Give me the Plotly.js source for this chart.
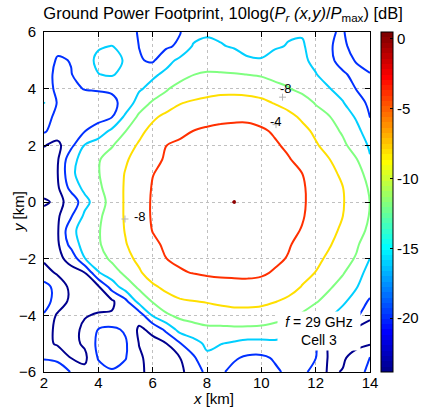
<!DOCTYPE html>
<html>
<head>
<meta charset="utf-8">
<script src="https://cdn.plot.ly/plotly-3.0.1.min.js"></script>
<style>
  html, body { margin: 0; padding: 0; background: #fff; }
  #chart { width: 434px; height: 408px; }
</style>
</head>
<body>
<div id="chart"></div>
<script>
// Ground grid (km)
const xKm = [2, 2.5, 3, 3.5, 4, 4.5, 5, 5.5, 6, 6.5, 7, 7.5, 8, 8.5, 9, 9.5, 10, 10.5, 11, 11.5, 12, 12.5, 13, 13.5, 14];
const yKm = [-6, -5.5, -5, -4.5, -4, -3.5, -3, -2.5, -2, -1.5, -1, -0.5, 0, 0.5, 1, 1.5, 2, 2.5, 3, 3.5, 4, 4.5, 5, 5.5, 6];

// Received power relative to the maximum, 10log(Pr/Pmax) in dB, one row per y
const powerDb = [
  [-18.5, -18.8, -20.1, -23, -21.5, -20.3, -21.3, -23.2, -25.3, -25.3, -24.8, -22.3, -19, -19.5, -21, -21.5, -21.5, -20.6, -19.3, -19.0, -21.5, -24.6, -23.8, -21.5, -19],
  [-20.2, -20.5, -24.1, -24.8, -19.7, -18.9, -19.8, -23.5, -25.2, -25.2, -24.1, -20.6, -16.8, -17.6, -19.6, -20.6, -20.7, -19.6, -18.6, -19.3, -19.9, -24.6, -24.5, -22.5, -19.8],
  [-22.5, -24.6, -25, -23.5, -19.0, -18.6, -19.5, -24.1, -25, -24.1, -20.3, -17.6, -15.2, -15.9, -16.6, -17.3, -17.3, -16.9, -17.5, -18.5, -19.2, -24.2, -25, -25, -24.3],
  [-22.5, -24.8, -25, -23.4, -19.9, -19.2, -20.5, -24.6, -23.2, -19.0, -14.6, -13.5, -12.7, -12.8, -12.7, -12.75, -12.9, -13.45, -14.3, -16.1, -17.5, -18.8, -20.8, -24.8, -25],
  [-20.3, -24.6, -25, -24.2, -23.7, -23.7, -23.2, -22.3, -15.6, -12.6, -11.1, -10.5, -10.2, -9.8, -9.4, -9.4, -9.65, -10.4, -11.2, -12.5, -14.3, -15.6, -17.5, -19.2, -23.5],
  [-18.5, -21.5, -25, -25.3, -25.2, -24.6, -21, -14.4, -11.7, -9.4, -8.5, -8.05, -7.7, -7.2, -6.9, -6.9, -7.1, -7.8, -8.8, -10, -11.6, -13.5, -15.3, -17.7, -20.5],
  [-18.5, -21.5, -25, -25.2, -24.6, -18.3, -14.1, -11.4, -8.6, -7.2, -5.7, -5.85, -5.4, -5.1, -4.9, -4.8, -5.1, -5.9, -6.5, -8.2, -9.8, -11.5, -13.6, -15.8, -18.3],
  [-22.5, -24.5, -25, -24.1, -16.3, -13.7, -11.2, -8.5, -6.3, -5.4, -4.3, -3.9, -3.6, -3.45, -3.45, -3.45, -3.6, -4.3, -5.5, -6.8, -8.1, -9.9, -11.7, -14.4, -17.5],
  [-24.6, -24.8, -23, -16.1, -13.6, -11.3, -9.1, -7.2, -5.6, -4.02, -3.5, -3.27, -3.08, -2.95, -2.89, -2.88, -3.03, -3.41, -4.2, -5.67, -7.1, -8.7, -10.4, -12.4, -16.05],
  [-25.3, -24.6, -18.6, -14.2, -12.4, -10.3, -8.2, -6.4, -4.55, -3.57, -2.99, -2.67, -2.42, -2.25, -2.17, -2.2, -2.42, -3.04, -3.75, -4.9, -6.3, -7.7, -9.5, -11.4, -14.6],
  [-25.5, -24.4, -17.0, -14.35, -12.3, -10.05, -7.8, -5.7, -3.9, -3.29, -2.7, -2.14, -1.83, -1.57, -1.44, -1.53, -1.97, -2.62, -3.33, -4.14, -5.57, -7.0, -8.6, -10.7, -12.7],
  [-25.5, -24.6, -20.3, -15.2, -12.7, -10.2, -7.6, -5.3, -3.72, -3.11, -2.5, -1.91, -1.35, -0.97, -0.72, -0.99, -1.62, -2.32, -3.04, -3.78, -5.04, -6.5, -8.0, -10.1, -12.2],
  [-23.4, -24.8, -23.0, -17.3, -13.8, -10.5, -7.54, -5.24, -3.72, -3.1, -2.48, -1.86, -1.24, -0.62, 0.05, -0.73, -1.47, -2.2, -2.94, -3.68, -4.83, -6.31, -7.79, -9.89, -12.05],
  [-25.8, -24.6, -18.6, -14.95, -12.7, -10.2, -7.6, -5.5, -3.81, -3.19, -2.57, -1.96, -1.37, -0.94, -0.69, -0.98, -1.59, -2.27, -2.99, -3.71, -4.9, -6.4, -7.94, -10.2, -12.4],
  [-25.8, -24.1, -16.7, -14.3, -12.2, -10.0, -7.8, -5.95, -4.07, -3.4, -2.78, -2.2, -1.84, -1.53, -1.4, -1.5, -1.93, -2.55, -3.25, -3.97, -5.44, -6.95, -8.7, -11.0, -13.0],
  [-25.5, -24.4, -17.2, -14.5, -12.3, -10.35, -8.4, -6.6, -4.8, -3.67, -3.12, -2.72, -2.43, -2.2, -2.1, -2.15, -2.44, -3.06, -3.77, -5.0, -6.4, -7.9, -9.8, -11.8, -15.7],
  [-23.8, -25, -21, -15.8, -14.0, -12.3, -9.8, -7.5, -5.8, -4.02, -3.53, -3.33, -3.1, -2.9, -2.8, -2.82, -3.05, -3.6, -4.6, -6.1, -7.6, -9.4, -11.2, -13.8, -16.5],
  [-19.5, -22.0, -22.0, -20.1, -18.2, -15.1, -12.05, -9.1, -6.7, -5.4, -4.6, -3.95, -3.4, -3.2, -3.1, -3.1, -3.5, -4.4, -5.3, -6.9, -8.7, -10.5, -12.5, -15.0, -17.9],
  [-17.8, -21.5, -22.0, -22.0, -21.3, -20.1, -15.1, -11.25, -8.75, -6.9, -6.7, -5.8, -5.3, -4.8, -4.6, -4.6, -5.2, -6.0, -6.9, -8.6, -10.2, -11.8, -14.0, -16.4, -20.1],
  [-15.9, -20.3, -21.0, -21.3, -21.3, -20.8, -18.9, -14.0, -11.5, -10.2, -8.15, -7.6, -7.2, -6.9, -6.7, -6.8, -7.2, -8.2, -9.4, -10.1, -12.3, -14.0, -15.7, -19.2, -20.4],
  [-18.5, -20.7, -20.5, -19.9, -19.7, -19.5, -19.2, -16.6, -14.5, -12.4, -10.6, -9.7, -9.2, -8.9, -9.0, -9.2, -9.7, -10.9, -11.8, -13.1, -14.5, -15.8, -17.9, -20.1, -20.4],
  [-19.0, -20.6, -20.1, -18.7, -16.1, -15.6, -17.4, -19.0, -16.8, -15.0, -13.5, -12.05, -11.7, -11.7, -11.8, -12.05, -12.4, -13.1, -13.3, -14.6, -15.8, -17.8, -19.8, -20.4, -20.1],
  [-18.5, -20.3, -19.9, -17.7, -15.1, -14.6, -16.4, -19.7, -20.5, -17.5, -15.1, -14.2, -13.3, -13.6, -14.2, -15.8, -15.85, -15.0, -14.3, -15.2, -17.0, -19.7, -20.5, -19.9, -19.2],
  [-18.3, -19.3, -19.2, -18.5, -16.4, -15.9, -17.8, -20.05, -20.9, -20.6, -19.3, -15.6, -15.3, -15.75, -16.35, -16.5, -16.75, -16.3, -15.85, -15.6, -17.5, -19.9, -20.3, -19.4, -18.7],
  [-18, -18.4, -18.8, -18.4, -18, -18.5, -19, -20.2, -21.1, -21.1, -20.2, -17.6, -16.4, -16.7, -17, -17.3, -17.6, -17.0, -16.3, -16.3, -17.7, -19.9, -20.1, -19.3, -18.5]
];

// Contour levels and colour range (dB)
const levels = [-24, -20, -16, -12, -8, -4, 0];
const colorMin = -23.85, colorMax = 0.48;
const colorTicks = [0, -5, -10, -15, -20];

// Contour labels: level text, text position and anchor mark (km)
const labelText = ['-8', '-4', '-8'];
const labelX = [10.9, 10.55, 5.55];
const labelY = [4.0, 2.85, -0.5];
const markX = [10.78, 10.54, 4.98];
const markY = [3.70, 2.73, -0.6];

// 64-row jet colormap
function jetRows() {
  const rows = [];
  for (let i = 1; i <= 64; i++) {
    const r = i <= 24 ? 0 : i <= 40 ? (i - 24) / 16 : i <= 56 ? 1 : (72 - i) / 16;
    const g = i <= 8 ? 0 : i <= 24 ? (i - 8) / 16 : i <= 40 ? 1 : i <= 56 ? (56 - i) / 16 : 0;
    const b = i <= 8 ? (i + 8) / 16 : i <= 24 ? 1 : i <= 40 ? (40 - i) / 16 : 0;
    rows.push(`rgb(${Math.round(r * 255)},${Math.round(g * 255)},${Math.round(b * 255)})`);
  }
  return rows;
}
const jet = jetRows();
const jetScale = [];
jet.forEach((c, k) => { jetScale.push([k / 64, c]); jetScale.push([(k + 1) / 64, c]); });
function jetAt(v) {
  const t = (v - colorMin) / (colorMax - colorMin);
  return jet[Math.min(63, Math.max(0, Math.floor(t * 64)))];
}

const font = 'Liberation Sans, Arial, Helvetica, sans-serif';

// One contour trace per level so each line takes its own colormap colour
const contourTraces = levels.map(L => ({
  type: 'contour',
  x: xKm, y: yKm, z: powerDb,
  autocontour: false,
  contours: { start: L, end: L, size: 4, coloring: 'none' },
  line: { width: 2, color: jetAt(L), smoothing: 1 },
  showscale: false, hoverinfo: 'skip'
}));

// Small anchor crosses of the contour labels
const markTrace = {
  type: 'scatter', mode: 'markers', x: markX, y: markY,
  hoverinfo: 'skip', showlegend: false,
  marker: { symbol: 'cross-thin', size: 5, line: { width: 1, color: '#b4b4b4' }, color: '#b4b4b4' }
};

// Colour bar as a stepped gradient
const scaleTrace = {
  type: 'scatter', mode: 'markers', x: [null], y: [null],
  hoverinfo: 'skip', showlegend: false,
  marker: {
    color: [colorMin], cmin: colorMin, cmax: colorMax, colorscale: jetScale,
    showscale: true,
    colorbar: {
      x: 1.033, xanchor: 'left', xref: 'paper',
      y: 0.5, yanchor: 'middle', len: 1, lenmode: 'fraction',
      thickness: 12, thicknessmode: 'pixels',
      xpad: 0, ypad: 0,
      outlinecolor: '#000', outlinewidth: 1,
      tickvals: colorTicks, ticktext: colorTicks.map(String),
      ticks: 'inside', ticklen: 3, tickcolor: '#000',
      tickfont: { family: font, size: 15, color: '#000' }
    }
  }
};

const annotations = labelText.map((t, i) => ({
  x: labelX[i], y: labelY[i], xref: 'x', yref: 'y', text: t, showarrow: false,
  font: { family: font, size: 13, color: '#000' }
}));
annotations.push({
  x: 12.14, y: -4.54, xref: 'x', yref: 'y',
  text: '<i>f</i> = 29 GHz<br>Cell 3', showarrow: false,
  bgcolor: '#fff', width: 80, height: 36, align: 'center',
  font: { family: font, size: 14, color: '#000' }
});
// Axis titles
annotations.push({
  x: 0.521, y: -0.078, xref: 'paper', yref: 'paper', xanchor: 'center', yanchor: 'middle',
  text: '<i>x</i> [km]', showarrow: false, font: { family: font, size: 15, color: '#000' }
});
annotations.push({
  x: -0.08, y: 0.473, xref: 'paper', yref: 'paper', xanchor: 'center', yanchor: 'middle',
  text: '<i>y</i> [km]', textangle: -90, showarrow: false, font: { family: font, size: 15, color: '#000' }
});

const axisCommon = {
  showline: true, linecolor: '#000', linewidth: 1, mirror: 'ticks',
  ticks: 'inside', ticklen: 5, tickcolor: '#000',
  showgrid: true, gridcolor: '#c0c0c0', griddash: 'dot', gridwidth: 1,
  zeroline: false, tickfont: { family: font, size: 15, color: '#000' }
};

const layout = {
  width: 434, height: 408,
  margin: { l: 44, r: 52, t: 32, b: 36 },
  paper_bgcolor: '#fff', plot_bgcolor: '#fff',
  showlegend: false,
  title: {
    text: 'Ground Power Footprint, 10log(<i>P<sub>r</sub></i> <i>(x,y)</i>/<i>P</i><sub>max</sub>) [dB]',
    x: 0.514, xref: 'container', xanchor: 'center',
    y: 0.968, yref: 'container', yanchor: 'middle',
    font: { family: font, size: 16.5, color: '#000' }
  },
  xaxis: Object.assign({}, axisCommon, {
    range: [2, 14], tickvals: [2, 4, 6, 8, 10, 12, 14], autorange: false,
    ticklabelstandoff: -3
  }),
  yaxis: Object.assign({}, axisCommon, {
    range: [-6, 6], tickvals: [-6, -4, -2, 0, 2, 4, 6], autorange: false,
    ticklabelstandoff: 4
  }),
  annotations: annotations
};

Plotly.newPlot('chart', contourTraces.concat([markTrace, scaleTrace]), layout, { staticPlot: true, displayModeBar: false });
</script>
</body>
</html>
